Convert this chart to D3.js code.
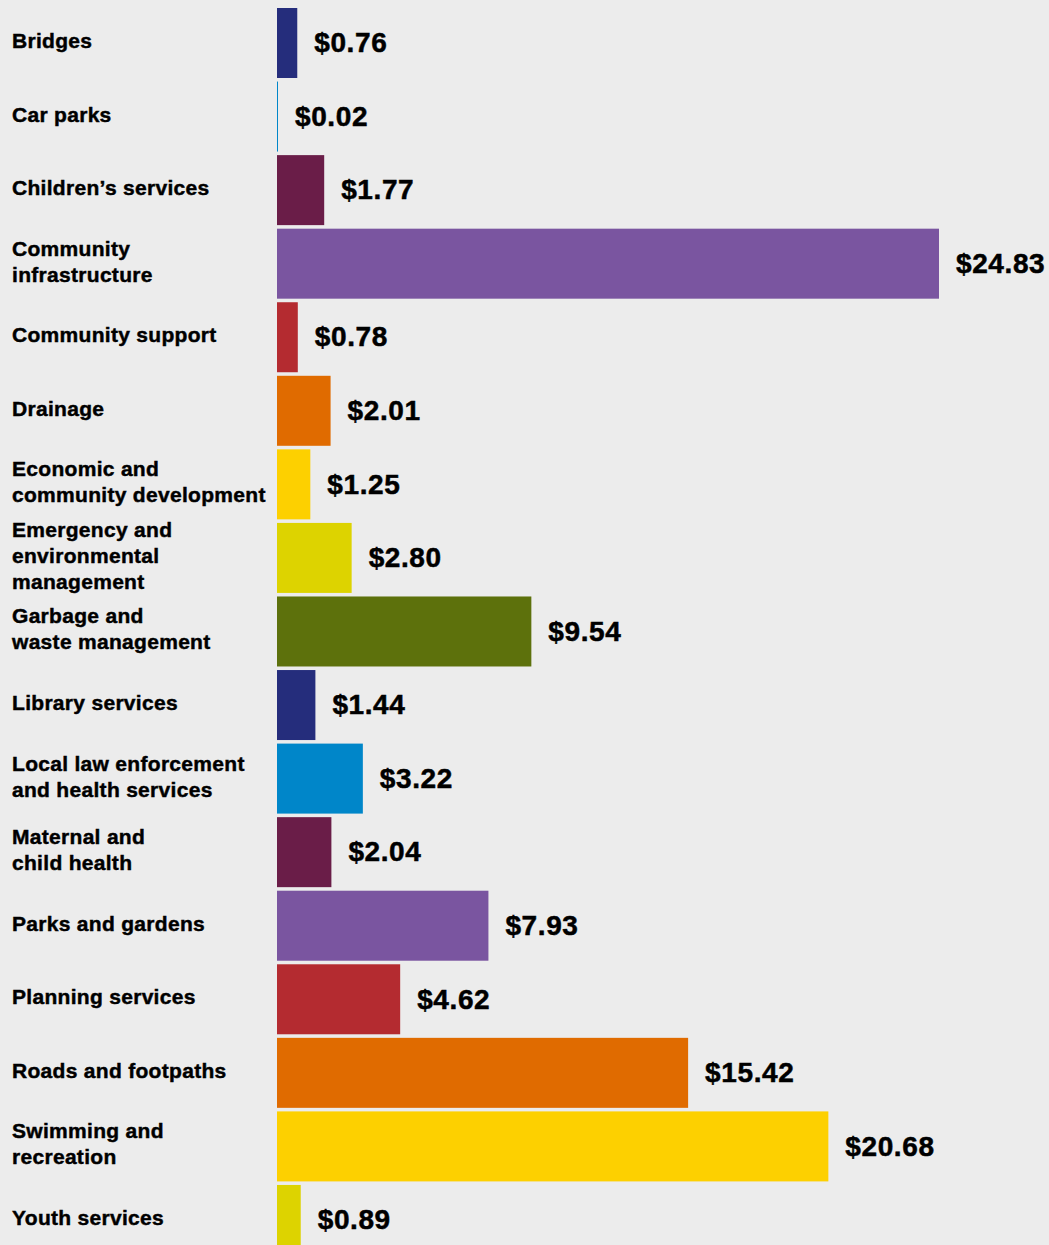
<!DOCTYPE html>
<html>
<head>
<meta charset="utf-8">
<script src="https://cdn.jsdelivr.net/npm/d3@7"></script>
<style>
  body { margin: 0; background: #ececec; }
  svg { display: block; }
  .label { font-family: 'Liberation Sans', Arial, sans-serif; font-weight: 700; font-size: 21px; letter-spacing: 0.3px; fill: #000; stroke: #000; stroke-width: 0.45px; }
  .value { font-family: 'Liberation Sans', Arial, sans-serif; font-weight: 700; font-size: 28px; letter-spacing: 0.6px; fill: #000; stroke: #000; stroke-width: 0.5px; }
</style>
</head>
<body>
<div id="d3-container"></div>
<script>
// CONST and GLOBALS
const width = 1049,
  height = 1245,
  margin = { top: 8, left: 277, labelX: 12 };

// categories (line breaks as in the picture)
const categories = [
  'Bridges',
  'Car parks',
  'Children’s services',
  'Community|infrastructure',
  'Community support',
  'Drainage',
  'Economic and|community development',
  'Emergency and|environmental|management',
  'Garbage and|waste management',
  'Library services',
  'Local law enforcement|and health services',
  'Maternal and|child health',
  'Parks and gardens',
  'Planning services',
  'Roads and footpaths',
  'Swimming and|recreation',
  'Youth services'
];

// dollar values
const values = [0.76, 0.02, 1.77, 24.83, 0.78, 2.01, 1.25, 2.80, 9.54, 1.44, 3.22, 2.04, 7.93, 4.62, 15.42, 20.68, 0.89];

// colour cycle
const palette = ['#252d7c', '#0086c9', '#6a1d48', '#7a55a0', '#b42b30', '#e06b00', '#fdd000', '#ddd300', '#5d710c'];

const data = categories.map((c, i) => ({ name: c, value: values[i], color: palette[i % palette.length] }));

// SCALES
const xScale = d3.scaleLinear()
  .domain([0, 24.83])
  .range([margin.left, 939]);

const yScale = d3.scaleBand()
  .domain(data.map(d => d.name))
  .range([margin.top, margin.top + 16 * 73.56 + 70])
  .paddingInner(0.0484)
  .paddingOuter(0);

const svg = d3.select('#d3-container')
  .append('svg')
  .attr('width', width)
  .attr('height', height);

svg.append('rect')
  .attr('width', width)
  .attr('height', height)
  .attr('fill', '#ececec');

// bars
svg.selectAll('.bar')
  .data(data)
  .join('rect')
  .attr('class', 'bar')
  .attr('x', xScale(0))
  .attr('y', d => yScale(d.name))
  .attr('width', d => Math.max(1, xScale(d.value) - xScale(0)))
  .attr('height', yScale.bandwidth())
  .attr('fill', d => d.color);

// value labels
svg.selectAll('.value')
  .data(data)
  .join('text')
  .attr('class', 'value')
  .attr('x', d => Math.max(xScale(d.value), xScale(0) + 1) + 17)
  .attr('y', d => yScale(d.name) + yScale.bandwidth() / 2)
  .attr('dy', '0.33em')
  .text(d => '$' + d.value.toFixed(2));

// category labels
const lineH = 26;
const labels = svg.selectAll('.label')
  .data(data)
  .join('text')
  .attr('class', 'label')
  .attr('x', margin.labelX)
  .attr('y', d => yScale(d.name) + yScale.bandwidth() / 2);

labels.each(function (d) {
  const lines = d.name.split('|');
  const t = d3.select(this);
  lines.forEach((ln, i) => {
    t.append('tspan')
      .attr('x', margin.labelX)
      .attr('dy', i === 0 ? ((-(lines.length - 1) / 2) * lineH + 5) + 'px' : lineH + 'px')
      .text(ln);
  });
});
</script>
</body>
</html>
